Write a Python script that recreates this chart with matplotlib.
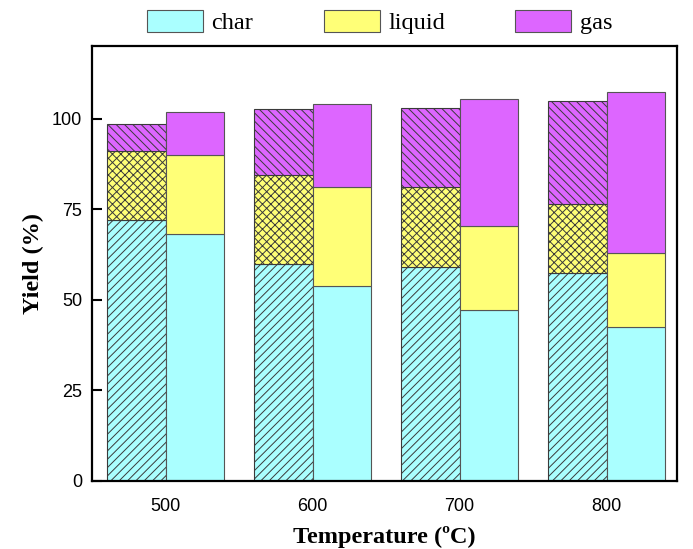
import matplotlib
matplotlib.use("Agg")
import matplotlib.pyplot as plt
import numpy as np
from matplotlib.patches import Patch

temps = ["500", "600", "700", "800"]
series = ["char", "liquid", "gas"]
# hatched bars (left in each group)
char_a = [72.0, 59.8, 59.0, 57.5]
liquid_a = [19.1, 24.7, 22.2, 19.0]
gas_a = [7.5, 18.0, 21.8, 28.2]
# solid bars (right in each group)
char_b = [68.1, 53.8, 47.1, 42.4]
liquid_b = [21.7, 27.4, 23.3, 20.5]
gas_b = [12.1, 22.7, 34.9, 44.3]

colors = ["#AAFFFF", "#FFFF77", "#DD66FF"]
hatches = ["////", "xxxx", "\\\\\\\\"]

plt.rcParams['hatch.linewidth'] = 0.7
fig = plt.figure(figsize=(6.93, 5.49), dpi=100)
ax = fig.add_axes([0.1328, 0.1239, 0.977 - 0.1328, 0.9162 - 0.1239])

x = np.arange(len(temps))
w = 0.4
bottom = np.zeros(len(temps))
for vals, c, h in zip([char_a, liquid_a, gas_a], colors, hatches):
    ax.bar(x - w / 2, vals, w, bottom=bottom, color=c, edgecolor="#3a3a3a",
           linewidth=0.8, hatch=h)
    bottom += np.array(vals)
bottom = np.zeros(len(temps))
for vals, c in zip([char_b, liquid_b, gas_b], colors):
    ax.bar(x + w / 2, vals, w, bottom=bottom, color=c, edgecolor="#555555",
           linewidth=0.8)
    bottom += np.array(vals)

ax.set_xlim(-0.5, 3.48)
ax.set_ylim(0, 120)
ax.set_yticks([0, 25, 50, 75, 100])
ax.set_xticks(x)
ax.set_xticklabels(temps)
for s in ax.spines.values():
    s.set_linewidth(1.6)
ax.tick_params(axis='y', direction='in', length=7, width=1.5, pad=7)
ax.tick_params(axis='x', length=0, pad=12)
for lab in ax.get_xticklabels() + ax.get_yticklabels():
    lab.set_fontfamily("Liberation Sans")
    lab.set_fontsize(13)

ax.set_xlabel("Temperature (ºC)", fontfamily="Liberation Serif", fontweight="bold",
              fontsize=17.5, labelpad=8)
ax.set_ylabel("Yield (%)", fontfamily="Liberation Serif", fontweight="bold",
              fontsize=17.5, labelpad=6)

handles = [Patch(facecolor=c, edgecolor="#555555", linewidth=0.8) for c in colors]
fig.legend(handles, series, loc="center", bbox_to_anchor=(0.548, 0.96), ncol=3,
           frameon=False, prop={"family": "Liberation Serif", "size": 17.5},
           handlelength=2.3, handleheight=1.05, handletextpad=0.35, columnspacing=2.9)

fig.savefig("out.png", dpi=100)
